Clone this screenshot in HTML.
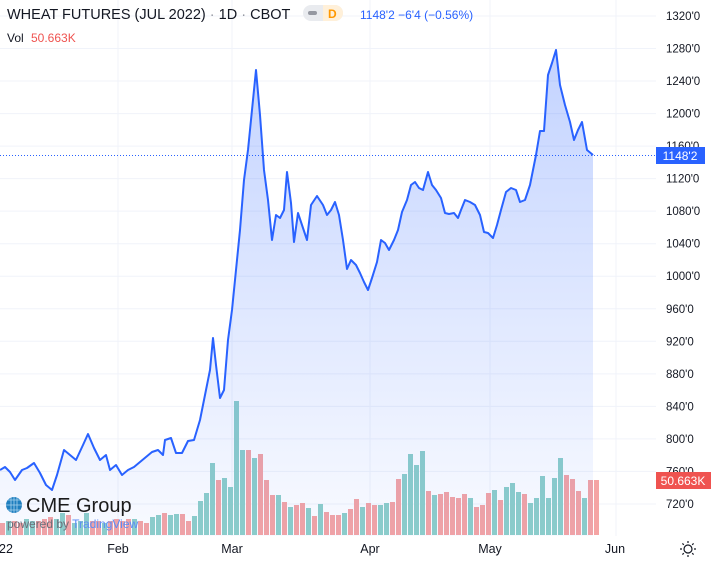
<!DOCTYPE html><html><head><style>body{margin:0;background:#fff;}svg{display:block;font-family:"Liberation Sans",sans-serif;}</style></head><body>
<svg width="716" height="561" xmlns="http://www.w3.org/2000/svg">
<defs><linearGradient id="g" x1="0" y1="0" x2="0" y2="1"><stop offset="0" stop-color="#2962ff" stop-opacity="0.28"/><stop offset="1" stop-color="#2962ff" stop-opacity="0.03"/></linearGradient></defs>
<g stroke="#f0f3fa" stroke-width="1" id="grid"></g>
<g id="vol"></g>
<path id="area" fill="url(#g)"/>
<path id="line" fill="none" stroke="#2962ff" stroke-width="2" stroke-linejoin="round"/>
<line x1="0" y1="155.5" x2="656" y2="155.5" stroke="#2962ff" stroke-width="1" stroke-dasharray="1,2"/>
<g id="ylab" font-size="11.5" fill="#131722"></g>
<rect x="656" y="147" width="49" height="17" fill="#2962ff"/>
<text x="680" y="160" font-size="12" fill="#fff" text-anchor="middle">1148'2</text>
<rect x="656" y="472" width="55" height="17" fill="#ef5350"/>
<text x="683" y="485" font-size="12" fill="#fff" text-anchor="middle">50.663K</text>
<g font-size="12.5" fill="#131722" text-anchor="middle">
<text x="6" y="553">22</text><text x="118" y="553">Feb</text><text x="232" y="553">Mar</text><text x="370" y="553">Apr</text><text x="490" y="553">May</text><text x="615" y="553">Jun</text></g>
<g transform="translate(688,549)" stroke="#131722" stroke-width="1.2" fill="none"><circle r="4"/><path d="M0-8v2M0 6v2M-8 0h2M6 0h2M-5.6-5.6l1.4 1.4M4.2 4.2l1.4 1.4M-5.6 5.6l1.4-1.4M4.2-4.2l1.4-1.4"/></g>
<text x="7" y="19" font-size="14.5" fill="#131722">WHEAT FUTURES (JUL 2022) <tspan fill="#9598a1">·</tspan> 1D <tspan fill="#9598a1">·</tspan> CBOT</text>
<rect x="303" y="5" width="40" height="16" rx="8" fill="#e9ebef"/><rect x="323" y="5" width="20" height="16" rx="8" fill="#fff0d9"/><rect x="323" y="5" width="8" height="16" fill="#fff0d9"/>
<rect x="308" y="11" width="9" height="4" rx="2" fill="#9598a1"/>
<text x="328" y="18" font-size="12" font-weight="bold" fill="#ff9800">D</text>
<text x="360" y="19" font-size="12" fill="#2962ff">1148'2  −6'4 (−0.56%)</text>
<text x="7" y="42" font-size="12" fill="#131722">Vol</text><text x="31" y="42" font-size="12" fill="#ef5350">50.663K</text>
<g transform="translate(14,505)"><circle r="8" fill="#1f7fbf"/><path d="M-8 0h16M0-8v16M-6-5h12M-6 5h12M-3-7.5v15M3-7.5v15" stroke="#a9d3ee" stroke-width="0.8"/></g>
<text x="26" y="512" font-size="20" fill="#1b1b1b">CME Group</text>
<text x="7" y="528" font-size="12" fill="#6a6d78">powered by <tspan fill="#5b8cf5">TradingView</tspan></text>
<script>
var NS="http://www.w3.org/2000/svg";
function el(t,a,p){var e=document.createElementNS(NS,t);for(var k in a)e.setAttribute(k,a[k]);document.getElementById(p).appendChild(e);return e;}
for(var i=0;i<16;i++){var y=16+i*32.53;el('line',{x1:0,x2:656,y1:y,y2:y},'grid');
var t=el('text',{x:666,y:y+4},'ylab');t.textContent=(1320-40*i)+"'0";}
[118,232,370,490,616].forEach(function(x){el('line',{x1:x,x2:x,y1:0,y2:536},'grid');});
var G="#8ecfc9",R="#f5a4a4";
var early=[[R,12],[G,14],[R,14],[R,12],[G,16],[G,14],[R,14],[R,16],[R,18],[G,16],[G,22],[R,20],[G,12],[G,14],[G,22],[R,14],[R,14],[G,12],[R,14],[R,16],[R,14],[R,16],[G,16],[R,14],[R,12],[G,18],[G,20],[R,22],[G,20],[G,21],[R,21],[R,14],[G,19]];
var later=[[G,34],[G,42],[G,72],[R,55],[G,57],[G,48],[G,134],[G,85],[R,85],[G,77],[R,81],[R,55],[R,40],[G,40],[R,33],[G,28],[R,30],
[R,32],[G,27],[R,19],[G,31],[R,23],[R,20],[R,20],[G,22],[R,26],[R,36],[G,28],[R,32],[R,30],[G,30],[G,32],[R,33],[R,56],[G,61],[G,81],[G,70],[G,84],[R,44],[G,40],[R,41],[R,43],[R,38],[R,37],[R,41],[G,37],[R,28],[R,30],[R,42],[G,45],[R,35],[G,48],[G,52],[G,43],[R,41],[G,32],[G,37],[G,59],[G,37],[G,57],[G,77],[R,60],[R,56],[R,44],[G,37],[R,55],[R,55]];
var bars=early.concat(later);var x0=0;
bars.forEach(function(b,i){var x=x0+i*6;el('rect',{x:x,y:535-b[1],width:5,height:b[1],fill:b[0]},'vol');});
var pts=[[0,470],[5,467],[10,472],[15,480],[22,470],[27,468],[34,463],[40,473],[46,485],[52,490],[57,475],[64,450],[70,455],[76,460],[83,445],[88,434],[94,448],[100,460],[106,455],[110,470],[116,465],[122,475],[128,470],[134,467],[140,462],[146,457],[152,452],[158,450],[163,455],[165,440],[171,438],[176,453],[182,453],[188,441],[194,440],[200,420],[206,390],[210,370],[213,338],[216,365],[220,398],[224,390],[228,340],[232,310],[236,270],[240,230],[244,180],[248,150],[252,110],[256,70],[260,115],[264,170],[268,200],[272,240],[276,215],[280,218],[284,210],[287,172],[291,203],[294,242],[298,213],[302,225],[307,240],[311,205],[317,196],[323,205],[327,215],[331,210],[335,202],[339,215],[343,240],[347,269],[351,260],[356,265],[360,273],[364,282],[368,290],[372,278],[377,262],[381,240],[385,243],[389,250],[394,240],[398,230],[402,212],[407,200],[411,185],[415,182],[419,188],[423,190],[428,172],[432,185],[436,190],[441,198],[445,213],[449,214],[454,213],[458,218],[461,210],[465,200],[470,202],[475,205],[480,215],[484,232],[488,233],[493,238],[497,225],[501,210],[506,192],[511,188],[516,190],[520,202],[525,200],[530,185],[536,155],[540,131],[544,131],[548,75],[552,63],[556,50],[560,85],[565,105],[570,122],[574,140],[578,130],[582,122],[587,150],[593,155]];
var d="M"+pts.map(function(p){return p[0]+" "+p[1]}).join("L");
document.getElementById('line').setAttribute('d',d);
document.getElementById('area').setAttribute('d',d+"L593 536L0 536Z");
</script>
</svg></body></html>
